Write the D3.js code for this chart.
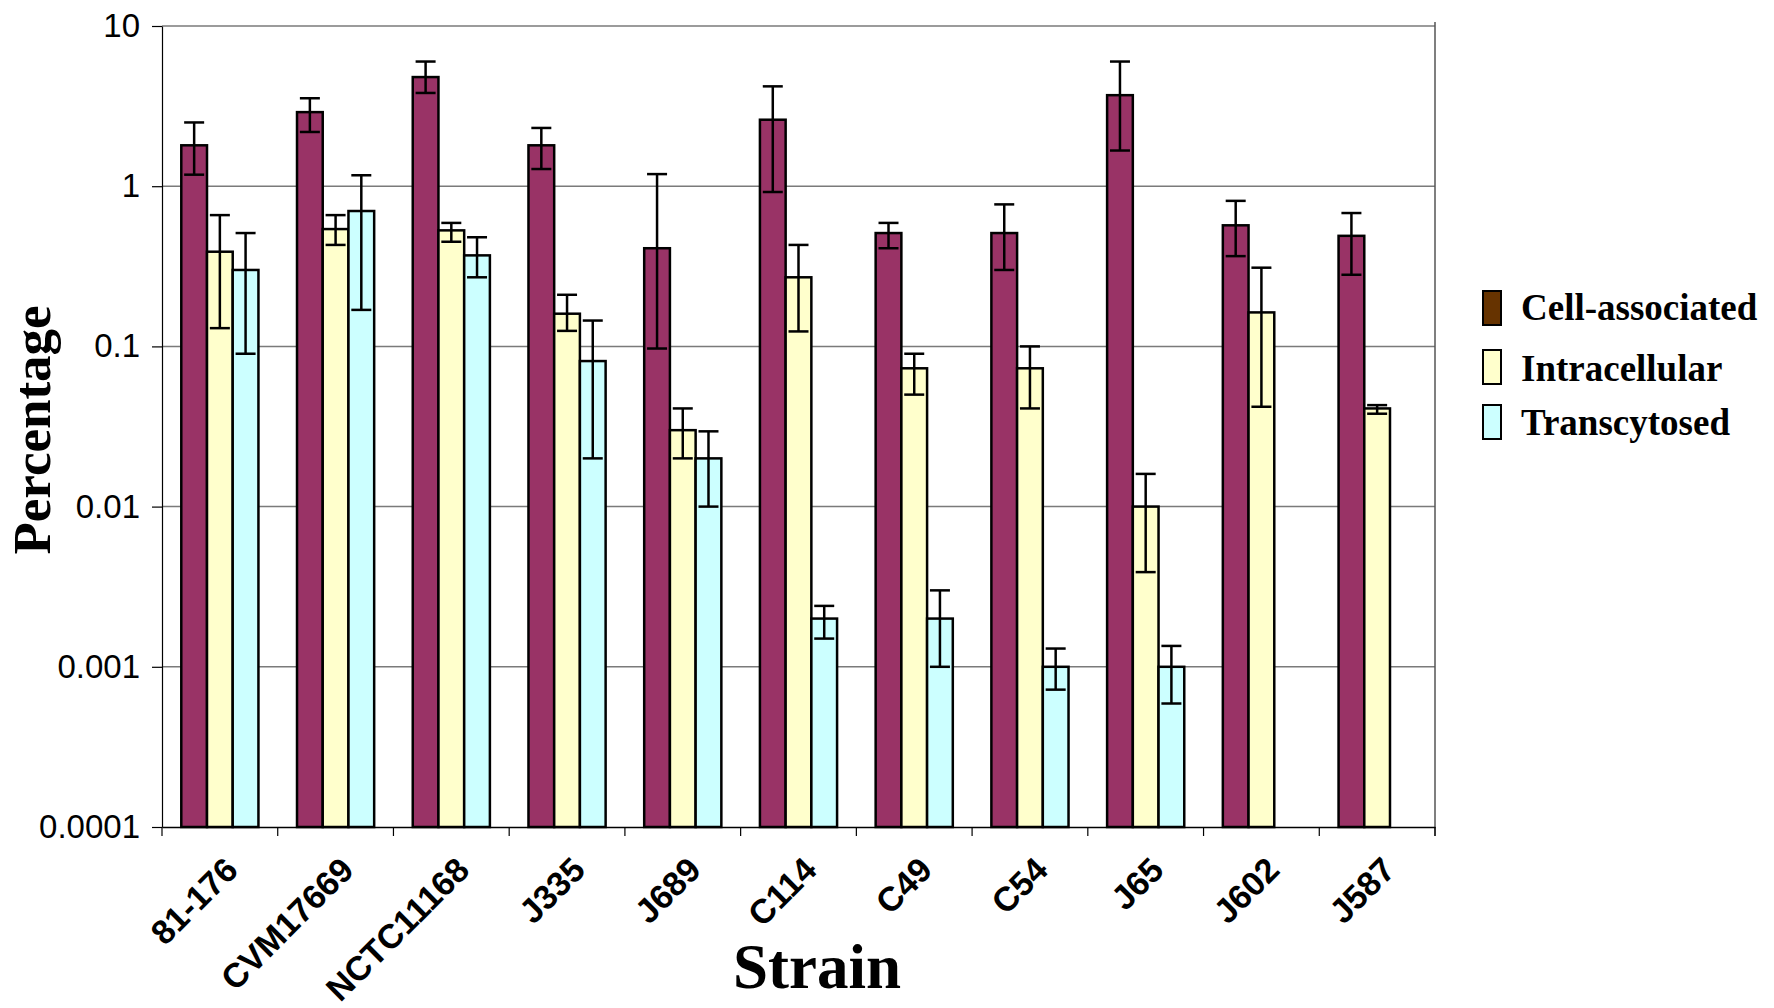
<!DOCTYPE html>
<html>
<head>
<meta charset="utf-8">
<script src="https://cdn.jsdelivr.net/npm/d3@7/dist/d3.min.js"></script>
<style>
  html, body { margin: 0; padding: 0; background: #fff; }
  svg { display: block; }
</style>
</head>
<body>
<svg id="chart" width="1774" height="1008"></svg>
<script>
// Strains on the x axis
const strains = ["81-176", "CVM17669", "NCTC11168", "J335", "J689", "C114", "C49", "C54", "J65", "J602", "J587"];

// Series names, in drawing order
const seriesNames = ["Cell-associated", "Intracellular", "Transcytosed"];

// Percentages per strain (null = not measured)
const cellAssociated = [1.8, 2.9, 4.8, 1.8, 0.41, 2.6, 0.51, 0.51, 3.7, 0.57, 0.49];
const intracellular  = [0.39, 0.54, 0.53, 0.16, 0.030, 0.27, 0.073, 0.073, 0.010, 0.163, 0.041];
const transcytosed   = [0.30, 0.70, 0.37, 0.081, 0.020, 0.002, 0.002, 0.001, 0.001, null, null];

// Error bar ends (lower / upper)
const cellLow   = [1.18, 2.18, 3.82, 1.28, 0.097, 0.92, 0.41, 0.30, 1.67, 0.366, 0.28];
const cellHigh  = [2.5, 3.54, 6.0, 2.31, 1.19, 4.2, 0.59, 0.77, 6.0, 0.81, 0.68];
const intraLow  = [0.13, 0.43, 0.45, 0.125, 0.020, 0.124, 0.050, 0.041, 0.0039, 0.042, 0.038];
const intraHigh = [0.66, 0.66, 0.59, 0.21, 0.041, 0.43, 0.090, 0.100, 0.016, 0.31, 0.043];
const transLow  = [0.090, 0.169, 0.27, 0.020, 0.010, 0.0015, 0.001, 0.00072, 0.00059, null, null];
const transHigh = [0.51, 1.17, 0.48, 0.145, 0.0295, 0.0024, 0.003, 0.0013, 0.00135, null, null];

// Y axis ticks
const yTickValues = [0.0001, 0.001, 0.01, 0.1, 1, 10];
const yTickLabels = ["0.0001", "0.001", "0.01", "0.1", "1", "10"];

// Colours
const barColors    = ["#993366", "#FFFFCC", "#CCFFFF"];
const legendColors = ["#663300", "#FFFFCC", "#CCFFFF"];

const series = [
  { name: seriesNames[0], values: cellAssociated, low: cellLow,  high: cellHigh,  color: barColors[0] },
  { name: seriesNames[1], values: intracellular,  low: intraLow, high: intraHigh, color: barColors[1] },
  { name: seriesNames[2], values: transcytosed,   low: transLow, high: transHigh, color: barColors[2] }
];

const svg = d3.select("#chart");
const plot = { left: 162, right: 1435, top: 26, bottom: 827 };

const x = d3.scaleBand().domain(strains).range([plot.left, plot.right]).paddingInner(0).paddingOuter(0);
const xSub = d3.scaleBand().domain(seriesNames).range([0, x.bandwidth()]).paddingInner(0).paddingOuter(0.75);
const y = d3.scaleLog().domain([0.0001, 10]).range([plot.bottom, plot.top]);

const sansFont = "'Liberation Sans', Arial, Helvetica, sans-serif";
const serifFont = "'Liberation Serif', 'Times New Roman', Times, serif";

// Horizontal gridlines
svg.append("g").selectAll("line")
  .data(yTickValues.filter(v => v > 0.0001))
  .join("line")
  .attr("x1", plot.left).attr("x2", plot.right)
  .attr("y1", d => y(d)).attr("y2", d => y(d))
  .attr("stroke", "#7a7a7a").attr("stroke-width", 1.5);

// Right border of plot area
svg.append("line")
  .attr("x1", plot.right).attr("x2", plot.right)
  .attr("y1", plot.top - 4).attr("y2", plot.bottom + 9)
  .attr("stroke", "#555").attr("stroke-width", 1.5);

// Bars
const groups = svg.append("g").selectAll("g")
  .data(strains)
  .join("g")
  .attr("transform", d => `translate(${x(d)},0)`);

series.forEach((s) => {
  groups.filter((d, i) => s.values[i] != null)
    .append("rect")
    .attr("x", () => xSub(s.name))
    .attr("width", xSub.bandwidth())
    .attr("y", (d) => y(s.values[strains.indexOf(d)]))
    .attr("height", (d) => plot.bottom - y(s.values[strains.indexOf(d)]))
    .attr("fill", s.color)
    .attr("stroke", "#000")
    .attr("stroke-width", 2.5);
});

// Error bars
const capHalf = 10;
series.forEach((s) => {
  const eg = groups.filter((d, i) => s.low[i] != null)
    .append("g")
    .attr("stroke", "#000")
    .attr("stroke-width", 2.5);
  const cx = xSub(s.name) + xSub.bandwidth() / 2;
  eg.append("line")
    .attr("x1", cx).attr("x2", cx)
    .attr("y1", d => y(s.low[strains.indexOf(d)]))
    .attr("y2", d => y(s.high[strains.indexOf(d)]));
  eg.append("line")
    .attr("x1", cx - capHalf).attr("x2", cx + capHalf)
    .attr("y1", d => y(s.low[strains.indexOf(d)]))
    .attr("y2", d => y(s.low[strains.indexOf(d)]));
  eg.append("line")
    .attr("x1", cx - capHalf).attr("x2", cx + capHalf)
    .attr("y1", d => y(s.high[strains.indexOf(d)]))
    .attr("y2", d => y(s.high[strains.indexOf(d)]));
});

// Y axis
const yAxis = svg.append("g")
  .attr("transform", `translate(${plot.left},0)`)
  .call(d3.axisLeft(y).tickValues(yTickValues)
    .tickFormat((d, i) => yTickLabels[i])
    .tickSize(10).tickPadding(12).tickSizeOuter(0));
yAxis.select(".domain").attr("stroke", "#000").attr("stroke-width", 1.2);
yAxis.selectAll(".tick line").attr("stroke", "#000").attr("stroke-width", 1.2);
yAxis.selectAll(".tick text")
  .attr("font-family", sansFont).attr("font-size", 33).attr("fill", "#000");

// X axis with category labels
const xAxis = svg.append("g")
  .attr("transform", `translate(0,${plot.bottom})`)
  .call(d3.axisBottom(x).tickSize(0).tickSizeOuter(0));
xAxis.select(".domain").attr("stroke", "#000").attr("stroke-width", 1.5);
xAxis.selectAll(".tick text")
  .attr("font-family", sansFont).attr("font-size", 34).attr("font-weight", "bold")
  .attr("fill", "#000")
  .attr("x", 0).attr("y", 0).attr("dy", 0)
  .attr("text-anchor", "end")
  .attr("transform", "translate(20,45) rotate(-45)");

// Category separator ticks on the x axis
const boundaries = strains.map(d => x(d)).concat([plot.right]);
xAxis.append("g").selectAll("line")
  .data(boundaries)
  .join("line")
  .attr("x1", d => d).attr("x2", d => d)
  .attr("y1", 0).attr("y2", 9)
  .attr("stroke", "#000").attr("stroke-width", 1.2);

// Axis titles
svg.append("text")
  .attr("x", 817).attr("y", 988)
  .attr("text-anchor", "middle")
  .attr("font-family", serifFont).attr("font-weight", "bold").attr("font-size", 63)
  .text("Strain");

svg.append("text")
  .attr("transform", "translate(50,430) rotate(-90)")
  .attr("text-anchor", "middle")
  .attr("font-family", serifFont).attr("font-weight", "bold").attr("font-size", 53)
  .text("Percentage");

// Legend
const legendRows = [
  { swatchY: 291, textY: 320 },
  { swatchY: 350, textY: 381 },
  { swatchY: 405, textY: 435 }
];
const legend = svg.append("g");
seriesNames.forEach((name, i) => {
  legend.append("rect")
    .attr("x", 1483).attr("y", legendRows[i].swatchY)
    .attr("width", 18).attr("height", 34)
    .attr("fill", legendColors[i]).attr("stroke", "#000").attr("stroke-width", 2);
  legend.append("text")
    .attr("x", 1521).attr("y", legendRows[i].textY)
    .attr("font-family", serifFont).attr("font-weight", "bold").attr("font-size", 37)
    .text(name);
});
</script>
</body>
</html>
